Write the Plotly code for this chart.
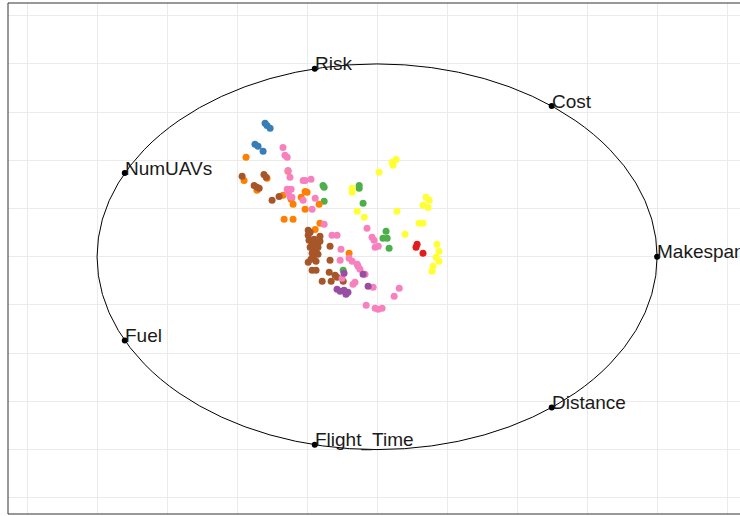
import plotly.graph_objects as go
import numpy as np

# Anchor (dimension) labels, counter-clockwise from 0 degrees
anchor_labels = ["Makespan", "Cost", "Risk", "NumUAVs", "Fuel", "Flight_Time", "Distance"]

# Projected RadViz coordinates per cluster
blue_x = [-0.400, -0.393, -0.382, -0.436, -0.425, -0.407]
blue_y = [0.692, 0.681, 0.666, 0.583, 0.573, 0.547]

red_x = [0.143, 0.139, 0.164]
red_y = [0.065, 0.049, 0.018]

green_x = [-0.193, -0.189, -0.189, -0.064, -0.064, -0.050, 0.032, 0.021, 0.036, 0.043, -0.121]
green_y = [0.370, 0.360, 0.288, 0.370, 0.355, 0.277, 0.132, 0.096, 0.096, 0.044, -0.070]

yellow_x = [0.068, 0.054, 0.057, 0.007, -0.089, -0.089, -0.071, -0.046, 0.071, 0.175, 0.186,
            0.164, 0.182, 0.150, 0.164, 0.100, 0.214, 0.221, 0.211, 0.221, 0.200, 0.196]
yellow_y = [0.505, 0.490, 0.474, 0.438, 0.355, 0.334, 0.236, 0.205, 0.236, 0.308, 0.293,
            0.267, 0.256, 0.174, 0.174, 0.117, 0.065, 0.028, -0.003, -0.023, -0.049, -0.075]

purple_x = [-0.118, -0.143, -0.132, -0.118, -0.111, -0.104, -0.032, -0.050]
purple_y = [-0.085, -0.168, -0.179, -0.174, -0.194, -0.184, -0.153, -0.091]

orange_x = [-0.468, -0.475, -0.429, -0.393, -0.318, -0.336, -0.300, -0.307, -0.257, -0.250,
            -0.271, -0.257, -0.207, -0.332, -0.300, -0.204, -0.221, -0.100]
orange_y = [0.516, 0.396, 0.345, 0.407, 0.443, 0.319, 0.272, 0.298, 0.339, 0.334,
            0.308, 0.246, 0.272, 0.194, 0.194, 0.174, 0.142, 0.018]

brown_x = [-0.482, -0.439, -0.429, -0.421, -0.404, -0.396, -0.375, -0.350, -0.246, -0.246,
           -0.243, -0.232, -0.239, -0.229, -0.218, -0.221, -0.211, -0.229, -0.211, -0.211,
           -0.204, -0.232, -0.168, -0.168, -0.246, -0.232, -0.218, -0.196, -0.171, -0.164,
           -0.150, -0.143, -0.121, -0.218, -0.236, -0.204, -0.225, -0.239]
brown_y = [0.417, 0.370, 0.360, 0.355, 0.427, 0.412, 0.293, 0.313, 0.137, 0.111,
           0.085, 0.065, 0.049, 0.039, 0.028, 0.013, 0.013, -0.003, 0.049, 0.070,
           0.106, 0.018, 0.054, -0.018, -0.028, -0.070, -0.070, -0.127, -0.080, -0.127,
           -0.096, -0.106, -0.127, -0.023, -0.013, 0.080, 0.091, 0.127]

pink_x = [-0.336, -0.329, -0.321, -0.318, -0.311, -0.264, -0.236, -0.257, -0.321, -0.307,
          -0.318, -0.311, -0.304, -0.264, -0.221, -0.232, -0.189, -0.161, -0.143, -0.129,
          -0.132, -0.100, -0.089, -0.071, -0.068, -0.061, -0.043, -0.079, -0.086, -0.125,
          -0.036, -0.018, -0.011, -0.007, 0.004, -0.014, 0.079, 0.061, -0.039, -0.007,
          0.004, 0.018]
pink_y = [0.567, 0.526, 0.516, 0.448, 0.412, 0.396, 0.402, 0.396, 0.350, 0.350,
          0.334, 0.313, 0.308, 0.293, 0.303, 0.246, 0.168, 0.111, 0.111, 0.039,
          -0.018, -0.008, -0.023, -0.039, -0.049, -0.065, -0.091, -0.132, -0.142, -0.111,
          0.148, 0.101, 0.085, 0.049, 0.054, -0.158, -0.163, -0.205, -0.251, -0.267,
          -0.272, -0.267]

series = [
    (blue_x, blue_y, "#377EB8"),
    (red_x, red_y, "#E41A1C"),
    (green_x, green_y, "#4DAF4A"),
    (orange_x, orange_y, "#FF7F00"),
    (yellow_x, yellow_y, "#FFFF33"),
    (brown_x, brown_y, "#A65628"),
    (pink_x, pink_y, "#F781BF"),
    (purple_x, purple_y, "#984EA3"),
]

fig = go.Figure()
for xs, ys, col in series:
    fig.add_trace(go.Scatter(x=xs, y=ys, mode="markers",
                             marker=dict(size=7, color=col, line=dict(width=0)),
                             showlegend=False, hoverinfo="skip"))

n = len(anchor_labels)
ang = 2 * np.pi * np.arange(n) / n
ax_x = np.cos(ang)
ax_y = np.sin(ang)

# unit circle
fig.add_shape(type="circle", xref="x", yref="y", x0=-1, y0=-1, x1=1, y1=1,
              line=dict(color="black", width=1), layer="above")

fig.add_trace(go.Scatter(x=ax_x, y=ax_y, mode="markers",
                         marker=dict(size=6, color="black"),
                         showlegend=False, hoverinfo="skip"))

for lab, xx, yy in zip(anchor_labels, ax_x, ax_y):
    fig.add_annotation(x=xx, y=yy, text=lab, showarrow=False, xanchor="left",
                       yanchor="middle", yshift=5, xshift=-2,
                       font=dict(family="Liberation Sans, Arial", size=19, color="#1a1a1a"))

# panel border (left, top, bottom)
for x0, y0, x1, y1 in [(0, 0, 0, 1), (0, 1, 1, 1), (0, 0, 1, 0)]:
    fig.add_shape(type="line", xref="paper", yref="paper", x0=x0, y0=y0, x1=x1, y1=y1,
                  line=dict(color="#333333", width=1), layer="above")

axis_common = dict(showticklabels=False, ticks="", showgrid=True, gridcolor="#EBEBEB",
                   gridwidth=1, zeroline=False, showline=False, dtick=0.25, tick0=0)
fig.update_xaxes(range=[-1.318, 1.296], **axis_common)
fig.update_yaxes(range=[-1.334, 1.316], **axis_common)

fig.update_layout(width=740, height=516, margin=dict(l=8, r=0, t=3, b=2),
                  plot_bgcolor="white", paper_bgcolor="white")

fig.write_html("out.html", config={"displayModeBar": False},
               post_script="document.body.style.margin='0px';document.body.style.overflow='hidden';")
